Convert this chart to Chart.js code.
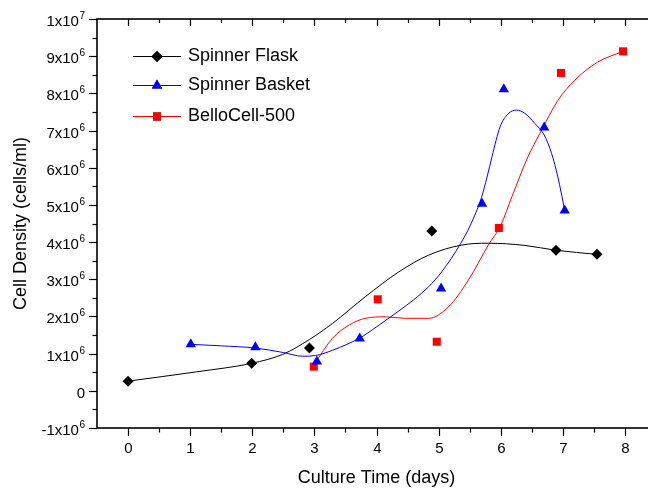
<!DOCTYPE html>
<html>
<head>
  <meta charset="UTF-8">
  <title>Cell Density vs Culture Time</title>
  <script src="https://cdn.jsdelivr.net/npm/chart.js"></script>
  <style>
    html, body { margin: 0; padding: 0; background: #fff; overflow: hidden; }
    #wrap { width: 662px; height: 491px; position: relative; }
  </style>
</head>
<body>

  <div id="wrap"><canvas id="densityChart"></canvas></div>

  <script>
    // measured points: culture time (days) vs cell density (x10^6 cells/ml)
    const flaskDays = [0, 1.99, 2.92, 4.89, 6.89, 7.55];
    const flaskDensity = [0.26, 0.74, 1.15, 4.30, 3.78, 3.67];
    const basketDays = [1.01, 2.05, 3.04, 3.73, 5.04, 5.70, 6.05, 6.70, 7.03];
    const basketDensity = [1.25, 1.17, 0.79, 1.41, 2.75, 5.03, 8.11, 7.08, 4.85];
    const belloDays = [2.99, 4.02, 4.97, 5.97, 6.97, 7.97];
    const belloDensity = [0.65, 2.46, 1.32, 4.38, 8.55, 9.13];

    // smoothed fit curves
    const flaskFitDays = [0, 1.1, 1.99, 2.49, 2.92, 3.29, 3.82, 4.36, 4.84, 5.37, 5.80, 6.39, 6.89, 7.55];
    const flaskFitDensity = [0.26, 0.51, 0.74, 0.98, 1.38, 1.81, 2.53, 3.2, 3.65, 3.92, 3.97, 3.91, 3.78, 3.67];
    const basketFitDays = [1.01, 1.5, 2.05, 2.5, 2.81, 3.02, 3.29, 3.73, 4.0, 4.36, 4.6, 4.84, 5.05, 5.35, 5.51, 5.69, 5.78, 5.86, 5.99, 6.12, 6.25, 6.39, 6.55, 6.70, 6.82, 6.92, 7.03];
    const basketFitDensity = [1.25, 1.21, 1.15, 1.03, 0.93, 0.95, 1.09, 1.42, 1.72, 2.15, 2.45, 2.8, 3.2, 3.95, 4.45, 5.2, 5.75, 6.3, 7.1, 7.45, 7.55, 7.46, 7.19, 6.88, 6.38, 5.75, 4.86];
    const belloFitDays = [3.0, 3.29, 3.56, 3.82, 4.14, 4.46, 4.84, 5.16, 5.48, 5.80, 6.0, 6.18, 6.44, 6.63, 6.92, 7.19, 7.56, 7.97];
    const belloFitDensity = [0.72, 1.41, 1.77, 1.95, 1.99, 1.95, 1.95, 2.26, 2.98, 3.92, 4.45, 5.22, 6.3, 6.92, 7.81, 8.35, 8.84, 9.13];

    const seriesNames = ['Spinner Flask', 'Spinner Basket', 'BelloCell-500'];
    const seriesColors = ['#000000', '#0000ff', '#ff0000'];
    const seriesMarkers = ['rectRot', 'triangle', 'rect'];
    const markerSizes = [5.5, 6, 5.7];

    const xTicks = [0, 1, 2, 3, 4, 5, 6, 7, 8];
    const yTicks = [-1, 0, 1, 2, 3, 4, 5, 6, 7, 8, 9, 10];

    const FONT = '"Liberation Sans", Arial, sans-serif';

    const pts = (xs, ys) => xs.map((x, i) => ({ x: x, y: ys[i] }));

    const pointSets = [[flaskDays, flaskDensity], [basketDays, basketDensity], [belloDays, belloDensity]];
    const fitSets = [[flaskFitDays, flaskFitDensity], [basketFitDays, basketFitDensity], [belloFitDays, belloFitDensity]];

    const datasets = [];
    fitSets.forEach((s, i) => {
      datasets.push({
        label: seriesNames[i] + ' fit',
        data: pts(s[0], s[1]),
        showLine: true,
        borderColor: seriesColors[i],
        borderWidth: 1,
        pointRadius: 0,
        cubicInterpolationMode: 'monotone',
        order: 2
      });
    });
    pointSets.forEach((s, i) => {
      datasets.push({
        label: seriesNames[i],
        data: pts(s[0], s[1]),
        showLine: false,
        pointStyle: seriesMarkers[i],
        pointRadius: markerSizes[i],
        backgroundColor: seriesColors[i],
        borderColor: seriesColors[i],
        borderWidth: 0,
        order: 1
      });
    });

    // y tick label like 1x10^6 with a real superscript
    function yLabel(v) {
      if (v === 0) return ['0', ''];
      const exp = Math.floor(Math.log10(Math.abs(v) * 1e6));
      const mant = v * 1e6 / Math.pow(10, exp);
      return [mant + 'x10', String(exp)];
    }

    const originAxes = {
      id: 'originAxes',
      afterDraw(chart) {
        const { ctx, chartArea: a, scales: { x, y } } = chart;
        ctx.save();
        ctx.strokeStyle = '#000';
        ctx.fillStyle = '#000';

        // frame
        ctx.lineWidth = 1.6;
        ctx.strokeRect(a.left, a.top, a.right - a.left, a.bottom - a.top);

        // x ticks (bottom out, top in) + labels
        ctx.lineWidth = 1.2;
        ctx.font = '15px ' + FONT;
        ctx.textAlign = 'center';
        ctx.textBaseline = 'middle';
        xTicks.forEach(v => {
          const px = Math.round(x.getPixelForValue(v)) + 0.5;
          ctx.beginPath();
          ctx.moveTo(px, a.bottom); ctx.lineTo(px, a.bottom + 8);
          ctx.moveTo(px, a.top); ctx.lineTo(px, a.top + 7);
          ctx.stroke();
          ctx.fillText(String(v), px, a.bottom + 21);
          const mpx = Math.round(x.getPixelForValue(v + 0.5)) + 0.5;
          ctx.beginPath();
          ctx.moveTo(mpx, a.bottom); ctx.lineTo(mpx, a.bottom + 4.5);
          ctx.moveTo(mpx, a.top); ctx.lineTo(mpx, a.top + 4);
          ctx.stroke();
        });

        // y ticks (left, outward) + labels
        yTicks.forEach(v => {
          const py = Math.round(y.getPixelForValue(v)) + 0.5;
          ctx.beginPath();
          ctx.moveTo(a.left, py); ctx.lineTo(a.left - 8, py);
          ctx.stroke();
          if (v < 10) {
            const mpy = Math.round(y.getPixelForValue(v + 0.5)) + 0.5;
            ctx.beginPath();
            ctx.moveTo(a.left, mpy); ctx.lineTo(a.left - 4.5, mpy);
            ctx.stroke();
          }
          const [main, sup] = yLabel(v);
          const right = a.left - 12;
          ctx.textAlign = 'right';
          ctx.textBaseline = 'alphabetic';
          ctx.font = '10px ' + FONT;
          const supW = sup ? ctx.measureText(sup).width + 0.5 : 0;
          if (sup) ctx.fillText(sup, right, py - 1);
          ctx.font = '15px ' + FONT;
          ctx.fillText(main, right - supW, py + 6);
        });

        // axis titles
        ctx.font = '18px ' + FONT;
        ctx.textAlign = 'center';
        ctx.textBaseline = 'middle';
        ctx.fillText('Culture Time (days)', (a.left + a.right) / 2, a.bottom + 50);
        ctx.save();
        ctx.translate(21, (a.top + a.bottom) / 2);
        ctx.rotate(-Math.PI / 2);
        ctx.fillText('Cell Density (cells/ml)', 0, 0);
        ctx.restore();

        // legend, Origin style: line - marker - line, then name
        const rowY = [56, 85, 116];
        seriesNames.forEach((name, i) => {
          const ly = rowY[i] + 0.5;
          ctx.strokeStyle = seriesColors[i];
          ctx.lineWidth = 1;
          ctx.beginPath();
          ctx.moveTo(133, ly); ctx.lineTo(181, ly);
          ctx.stroke();
          Chart.helpers.drawPoint(ctx, {
            pointStyle: seriesMarkers[i], radius: markerSizes[i], rotation: 0, borderWidth: 0
          }, 157, ly);
          ctx.fillStyle = seriesColors[i];
          ctx.fill();
          ctx.fillStyle = '#000';
          ctx.textAlign = 'left';
          ctx.fillText(name, 188, rowY[i]);
        });

        ctx.restore();
      }
    };

    const chartCtx = document.getElementById('densityChart').getContext('2d');
    new Chart(chartCtx, {
      type: 'scatter',
      data: { datasets: datasets },
      options: {
        responsive: true,
        maintainAspectRatio: false,
        animation: false,
        layout: { padding: { left: 97, top: 19, right: 3, bottom: 63 } },
        plugins: { legend: { display: false }, tooltip: { enabled: false } },
        scales: {
          x: { type: 'linear', min: -0.5, max: 8.5, display: false },
          y: { type: 'linear', min: -1, max: 10, display: false }
        }
      },
      plugins: [originAxes]
    });
  </script>

</body>
</html>
